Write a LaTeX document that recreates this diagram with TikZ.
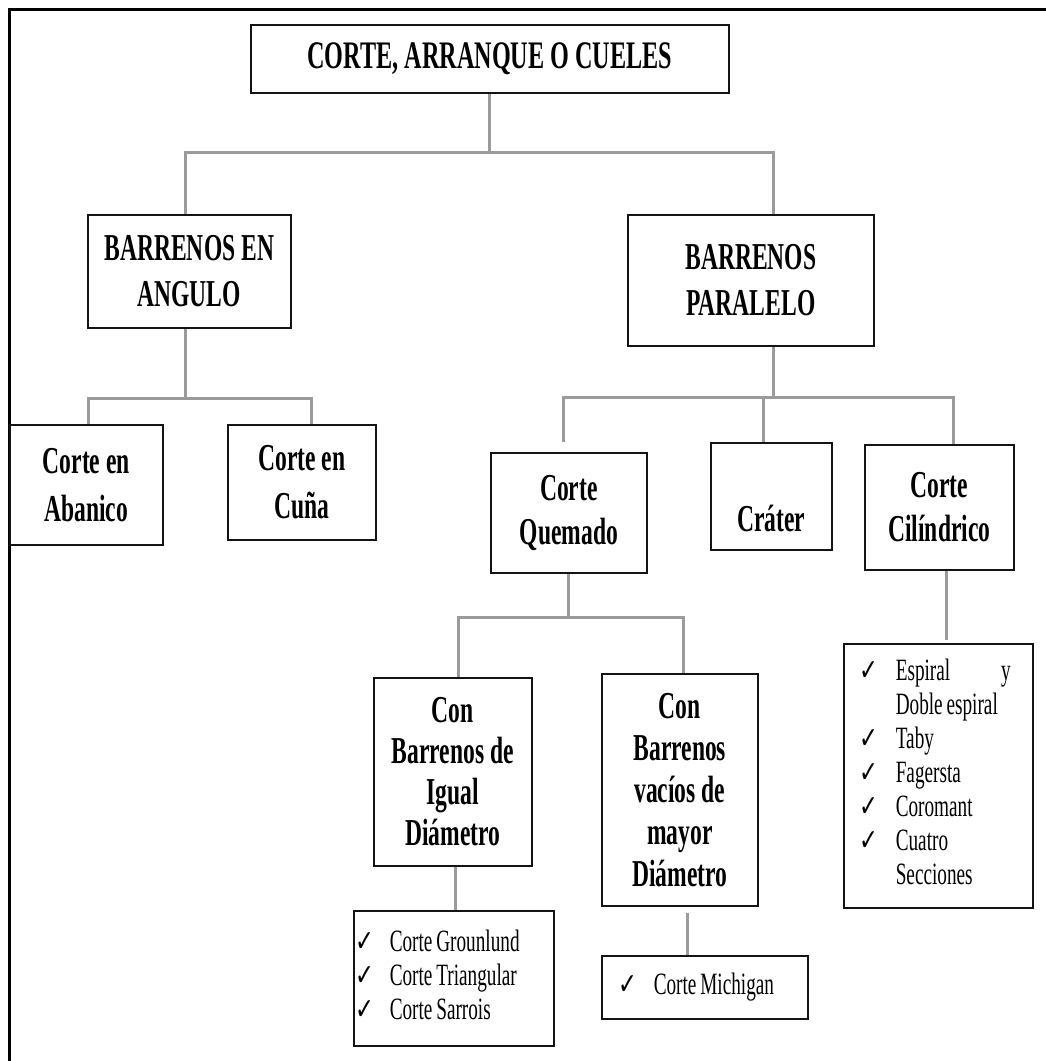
\documentclass[tikz,border=0pt]{standalone}
\usepackage{fontspec}
\usepackage{array}
\setmainfont{Liberation Serif}[FakeStretch=0.62]
\newfontfamily\listrm{Liberation Serif}[FakeStretch=0.62, WordSpace=0.8]
\newfontfamily\chkfont{DejaVu Sans}[FakeStretch=0.75]
\definecolor{conncol}{RGB}{155,155,155}
\definecolor{boxcol}{RGB}{20,20,20}
\newcommand{\ck}{{\chkfont\fontsize{30}{34}\selectfont ✓}}
\newcommand{\listfont}{\listrm\fontsize{31}{34}\selectfont}
\begin{document}
\begin{tikzpicture}[x=1pt,y=-1pt,
  box/.style={draw=boxcol, line width=1.6pt, anchor=north west, inner sep=0pt, align=center,
    font=\fontsize{38}{44}\selectfont\bfseries},
  listbox/.style={draw=boxcol, line width=1.6pt, anchor=north west, align=flush left, inner ysep=0pt,
    font=\listfont},
  conn/.style={draw=conncol, line width=3pt},
  frame/.style={draw=black, line width=3pt}
]
\useasboundingbox (0,0) rectangle (1046,1061);
% outer frame (partly cropped)
\draw[frame] (9,1065) -- (9,9) -- (1050,9);

% nodes
\node[box, minimum width=478pt, minimum height=68pt, font=\fontsize{39}{44}\selectfont\bfseries] (T) at (250,24) {CORTE, ARRANQUE O CUELES};
\node[box, minimum width=203pt, minimum height=113pt, font=\fontsize{38}{46}\selectfont\bfseries] (A) at (87,214) {BARRENOS EN\\ANGULO};
\node[box, minimum width=246pt, minimum height=131pt, font=\fontsize{38}{46}\selectfont\bfseries] (B) at (627,214) {BARRENOS\\PARALELO};

\node[box, minimum width=153pt, minimum height=120pt, font=\fontsize{38}{48}\selectfont\bfseries] (Ab) at (9,424) {Corte en\\Abanico};
\node[box, minimum width=148pt, minimum height=115pt, font=\fontsize{38}{48}\selectfont\bfseries] (Cu) at (227,424) {Corte en\\Cuña};

\node[box, minimum width=156pt, minimum height=120pt, font=\fontsize{38}{44}\selectfont\bfseries] (Q) at (490,452) {Corte\\Quemado};
\node[box, minimum width=121pt, minimum height=107pt, font=\fontsize{38}{70}\selectfont\bfseries] (Cr) at (710,442) {\mbox{}\\Cráter};
\node[box, minimum width=149pt, minimum height=125pt] (Ci) at (864,444) {Corte\\Cilíndrico};

\node[box, minimum width=158pt, minimum height=188pt, font=\fontsize{38}{41}\selectfont\bfseries] (I) at (373,677) {Con\\Barrenos de\\Igual\\Diámetro};
\node[box, minimum width=156pt, minimum height=232pt, font=\fontsize{38}{42}\selectfont\bfseries] (V) at (601,673) {Con\\Barrenos\\vacíos de\\mayor\\Diámetro};

\node[listbox, inner xsep=2pt, text width=196pt, minimum height=135pt] (GL) at (353,910)
  {\noindent\begin{tabular}{@{}p{34pt}@{}l@{}}
   \ck & Corte Grounlund\\
   \ck & Corte Triangular\\
   \ck & Corte Sarrois
   \end{tabular}};
\node[listbox, inner xsep=17pt, text width=172pt, minimum height=63pt] (ML) at (601,955)
  {\noindent\begin{tabular}{@{}p{35pt}@{}l@{}}
   \ck & Corte Michigan
   \end{tabular}};
\node[listbox, inner xsep=16pt, text width=157pt, minimum height=264pt] (CL) at (843,643)
  {\noindent\begin{tabular}{@{}p{36pt}@{}l@{}}
   \ck & \makebox[115pt][s]{Espiral\hfill y}\\
       & Doble espiral\\
   \ck & Taby\\
   \ck & Fagersta\\
   \ck & Coromant\\
   \ck & Cuatro\\
       & Secciones
   \end{tabular}};

% connector levels
\coordinate (b1) at (0,152);
\coordinate (b2) at (0,398);
\coordinate (b3) at (0,397);
\coordinate (b4) at (0,617);

% title -> level 1
\coordinate (aTop) at ([xshift=-3.5pt]A.north);
\coordinate (bTop) at ([xshift=23pt]B.north);
\draw[conn] (T.south) -- (T.south |- b1);
\draw[conn] (aTop) -- (aTop |- b1) -- (bTop |- b1) -- (bTop);

% angulo -> children
\coordinate (aBot) at ([xshift=-3.5pt]A.south);
\coordinate (abTop) at ([xshift=2pt]Ab.north);
\coordinate (cuTop) at ([xshift=10pt]Cu.north);
\draw[conn] (aBot) -- (aBot |- b2);
\draw[conn] (abTop) -- (abTop |- b2) -- (cuTop |- b2) -- (cuTop);

% paralelo -> children
\coordinate (bBot) at ([xshift=23pt]B.south);
\coordinate (qTop) at ([xshift=-5pt]Q.north);
\coordinate (crTop) at ([xshift=-7.5pt]Cr.north);
\coordinate (ciTop) at ([xshift=14.5pt]Ci.north);
\draw[conn] (bBot) -- (bBot |- b3);
\draw[conn, shorten <=10pt] (qTop) -- (qTop |- b3) -- (ciTop |- b3) -- (ciTop);
\draw[conn] (crTop) -- (crTop |- b3);

% quemado -> children
\coordinate (iTop) at ([xshift=6pt]I.north);
\coordinate (vTop) at ([xshift=4pt]V.north);
\draw[conn] (Q.south) -- (Q.south |- b4);
\draw[conn] (iTop) -- (iTop |- b4) -- (vTop |- b4) -- (vTop);

% to lists
\coordinate (ciBot) at ([xshift=7.5pt]Ci.south);
\draw[conn, shorten >=3pt] (ciBot) -- (ciBot |- CL.north);
\coordinate (iBot) at ([xshift=3pt]I.south);
\draw[conn] (iBot) -- (iBot |- GL.north);
\coordinate (vBot) at ([xshift=8pt]V.south);
\draw[conn, shorten <=6pt] (vBot) -- (vBot |- ML.north);
\end{tikzpicture}
\end{document}
